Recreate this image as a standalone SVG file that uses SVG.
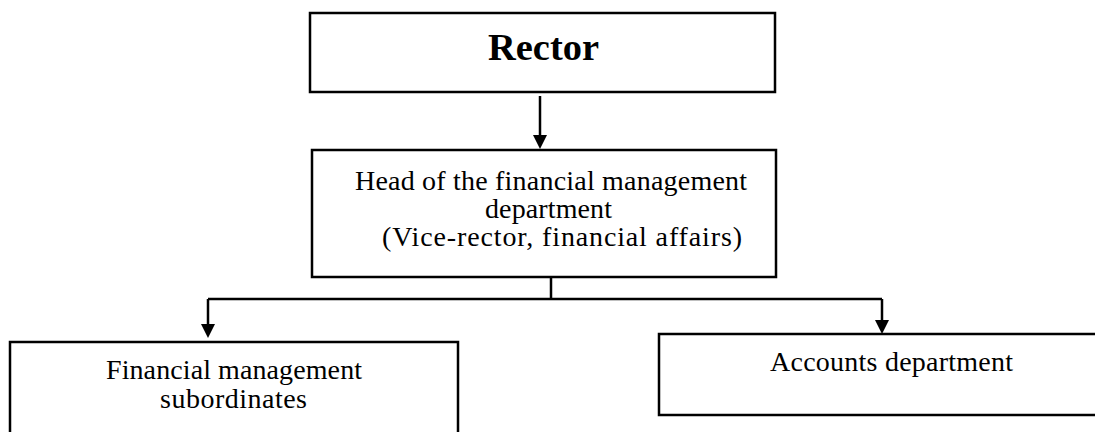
<svg xmlns="http://www.w3.org/2000/svg" width="1095" height="432" viewBox="0 0 1095 432">
<style>
.box{fill:#fff;stroke:#000;stroke-width:2.5}
.t{font-family:"Liberation Serif","Times New Roman",serif;font-size:28px;fill:#000}
.b{font-family:"Liberation Serif","Times New Roman",serif;font-size:38px;font-weight:bold;fill:#000}
.c{fill:none;stroke:#000;stroke-width:2.5}
</style>
<rect width="1095" height="432" fill="#fff"/>
<g id="rector">
<rect class="box" x="310" y="13" width="465" height="79"/>
<text class="b" x="488" y="60" textLength="111" lengthAdjust="spacingAndGlyphs">Rector</text>
</g>
<g id="head">
<rect class="box" x="312" y="150" width="464" height="127"/>
<text class="t" x="355" y="190" textLength="392">Head of the financial management</text>
<text class="t" x="485" y="218" textLength="127">department</text>
<text class="t" x="382" y="246" textLength="360">(Vice-rector, financial affairs)</text>
</g>
<g id="subordinates">
<rect class="box" x="10" y="342" width="448" height="110"/>
<text class="t" x="106" y="379" textLength="256">Financial management</text>
<text class="t" x="160" y="408" textLength="147">subordinates</text>
</g>
<g id="accounts">
<rect class="box" x="659" y="334" width="450" height="81"/>
<text class="t" x="770" y="371" textLength="243">Accounts department</text>
</g>
<g id="connectors">
<path class="c" d="M540,96 V135"/>
<polygon points="533,135 547,135 540,149" fill="#000"/>
<path class="c" d="M551,277 V299"/>
<path class="c" d="M208,299 H882"/>
<path class="c" d="M208,299 V324"/>
<polygon points="201,324 215,324 208,338" fill="#000"/>
<path class="c" d="M882,299 V320"/>
<polygon points="875,320 889,320 882,334" fill="#000"/>
</g>
</svg>
